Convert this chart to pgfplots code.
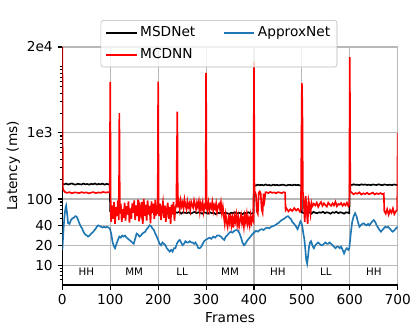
\documentclass[border=0pt]{standalone}
\usepackage{fontspec}
\setmainfont{DejaVu Sans}
\usepackage{pgfplots}
\pgfplotsset{compat=1.18}
\definecolor{mblue}{HTML}{1F77B4}
\definecolor{gridc}{HTML}{B8B8B8}
\begin{document}
\begin{tikzpicture}
\begin{axis}[
  name=ax,
  scale only axis,
  width=244.8pt, height=173.7pt,
  xmin=0, xmax=700, ymin=5, ymax=20000,
  ymode=log,
  axis x line*=bottom, axis y line*=left,
  axis line style={line width=0.8pt, black},
  xtick={0,100,200,300,400,500,600,700},
  ytick={10,20,40,100,1000,20000},
  yticklabels={10,20,40,100,1e3,2e4},
  minor ytick={6,7,8,9,30,50,60,70,80,90,200,300,400,500,600,700,800,900,2000,3000,4000,5000,6000,7000,8000,9000,10000},
  grid=major,
  major grid style={gridc, line width=0.8pt},
  tick align=outside,
  major tick length=3.5pt, minor tick length=2pt,
  every tick/.style={black, line width=0.8pt},
  tick label style={font=\fontsize{10}{12}\selectfont},
  /pgf/number format/assume math mode=true,
  xlabel={Frames}, ylabel={Latency (ms)},
  label style={font=\fontsize{10}{12}\selectfont},
  xlabel style={yshift=1pt},
  ylabel style={yshift=-2pt},
  transpose legend,
  legend columns=2,
  legend cell align=left,
  legend style={at={(0.467,1.113)}, anchor=north, draw=gridc, rounded corners=2pt,
    fill=white, fill opacity=0.8, text opacity=1, draw opacity=1,
    font=\fontsize{10}{12}\selectfont, inner xsep=3pt, inner ysep=2.5pt,
    row sep=3.2pt,
    /tikz/every even column/.append style={column sep=18pt}},
  legend image code/.code={\draw[#1, line width=1.3pt, draw opacity=1] (0pt,0pt) -- (22.4pt,0pt);},
]
\addplot[black, line width=1.2pt] coordinates {
(0,170)(4,167)(8,171)(12,166)(16,169)(20,172)(24,167)(28,165)(32,170)(36,168)(40,166)(44,171)(48,167)(52,169)(56,165)(60,170)(64,167)(68,172)(72,166)(76,169)(80,167)(84,171)(88,165)(92,169)(96,168)(99,167)
(100,65)(104,63)(108,66)(112,62)(116,64)(120,65)(124,61)(128,64)(132,66)(136,62)(140,64)(144,63)(148,65)(152,61)(156,64)(160,66)(164,62)(168,63)(172,65)(176,62)(180,64)(184,61)(188,65)(192,63)(196,64)(199,62)
(200,63)(204,61)(208,64)(212,62)(216,63)(220,60)(224,64)(228,62)(232,61)(236,63)(240,62)(244,64)(248,60)(252,63)(256,62)(260,61)(264,63)(268,60)(272,62)(276,64)(280,61)(284,63)(288,62)(292,60)(296,63)(299,62)
(300,62)(304,60)(308,63)(312,61)(316,62)(320,59)(324,62)(328,61)(332,63)(336,60)(340,62)(344,61)(348,59)(352,62)(356,61)(360,63)(364,60)(368,62)(372,61)(376,59)(380,62)(384,60)(388,63)(392,61)(396,60)(399,62)
(400,163)(404,160)(408,165)(412,162)(416,164)(420,161)(424,166)(428,162)(432,163)(436,160)(440,165)(444,162)(448,164)(452,161)(456,163)(460,165)(464,162)(468,160)(472,164)(476,163)(480,161)(484,165)(488,162)(492,164)(496,160)(499,163)
(500,63)(504,61)(508,64)(512,62)(516,63)(520,60)(524,64)(528,62)(532,61)(536,63)(540,62)(544,64)(548,61)(552,63)(556,62)(560,60)(564,63)(568,62)(572,64)(576,61)(580,63)(584,62)(588,60)(592,63)(596,62)(599,61)
(600,166)(604,163)(608,167)(612,164)(616,165)(620,162)(624,167)(628,164)(632,166)(636,163)(640,165)(644,162)(648,166)(652,164)(656,163)(660,167)(664,164)(668,162)(672,166)(676,164)(680,163)(684,165)(688,162)(692,166)(696,164)(700,163)
};
\addlegendentry{MSDNet}

\addplot[red, line width=1.2pt] coordinates {
(0,20000)(1,150)(2,138)(5,128)(10,124)(15,127)(20,122)(25,126)(30,125)(35,123)(40,127)(45,124)(50,126)(55,122)(60,125)(65,127)(70,123)(75,126)(80,124)(85,128)(90,125)(95,127)(99,126)
(100,5900)(101,60)(102,45)(104,80)(106,50)(108,90)(110,42)(112,75)(114,55)(116,95)(118,48)(119,2000)(120,60)(122,85)(124,45)(126,70)(128,52)(130,88)(132,47)(134,78)(136,58)(138,92)(140,44)(142,72)(144,50)(146,86)(148,62)(150,95)(152,48)(154,80)(156,55)(158,98)(160,46)(162,75)(164,60)(166,90)(168,42)(170,100)(172,55)(174,82)(176,47)(178,95)(180,58)(182,78)(184,43)(186,92)(188,62)(190,85)(192,50)(194,97)(196,56)(198,80)(199,60)
(200,6000)(201,70)(202,55)(204,85)(206,48)(208,72)(210,90)(212,52)(214,80)(216,45)(218,68)(220,88)(222,50)(224,75)(226,42)(228,82)(230,58)(232,90)(234,47)(236,70)(238,85)(240,2100)(241,75)(243,90)(245,70)(247,95)(249,78)(251,88)(253,72)(255,98)(257,80)(259,70)(261,92)(263,76)(265,85)(267,68)(269,90)(271,80)(273,74)(275,95)(277,82)(279,70)(281,88)(283,76)(285,92)(287,65)(289,85)(291,72)(293,88)(295,64)(297,80)(299,75)
(300,8100)(301,90)(303,70)(305,88)(307,68)(309,82)(311,74)(313,90)(315,66)(317,80)(319,72)(321,86)(323,64)(325,78)(327,84)(329,70)(331,88)(333,62)(335,76)
(337,55)(339,42)(341,58)(343,45)(345,38)(347,52)(349,44)(351,60)(353,40)(355,50)(357,37)(359,55)(361,46)(363,58)(365,41)(367,53)(369,39)(371,48)(373,57)(375,43)(377,51)(379,38)(381,55)(383,45)(385,59)(387,42)(389,50)(391,40)(393,56)(395,44)(397,52)(399,47)
(400,12000)(401,130)(402,128)(404,118)(406,65)(408,60)(410,125)(412,130)(414,122)(416,70)(418,62)(420,120)(422,95)(424,126)(426,127)(430,123)(434,128)(438,124)(442,126)(446,122)(450,127)(454,125)(458,123)(462,127)(465,125)
(466,68)(468,72)(472,65)(476,70)(480,66)(484,73)(488,67)(492,71)(496,64)(498,69)
(500,5700)(501,2500)(502,130)(504,85)(506,45)(508,110)(510,70)(512,42)(514,95)(516,80)(518,60)(520,88)(522,78)(525,85)(528,80)(531,88)(534,76)(537,84)(540,90)(543,79)(546,86)(549,81)(552,77)(555,88)(558,83)(561,79)(564,86)(567,80)(570,91)(573,78)(576,84)(579,82)(582,87)(585,79)(588,85)(591,80)(594,88)(597,78)(599,82)
(600,14000)(601,130)(604,125)(608,118)(612,123)(616,120)(620,126)(624,117)(628,122)(632,119)(636,124)(640,118)(644,121)(648,125)(652,117)(656,122)(660,119)(664,123)(668,118)(671,121)
(672,66)(675,60)(678,70)(681,58)(684,68)(687,62)(690,72)(693,59)(696,65)(699,68)(700,1000)
};
\addlegendentry{MCDNN}

\addplot[mblue, line width=1.2pt] coordinates {
(0,17)(3,40)(5,60)(7,76)(8,80)(10,60)(12,43)(15,42)(18,48)(21,51)(24,52)(27,55)(30,54)(33,48)(36,42)(39,38)(42,35)(45,31)(48,29)(51,28)(54,27)(57,28)(60,30)(63,31)(66,33)(69,35)(72,38)(75,40)(78,39)(81,38)(84,37)(87,38)(90,37)(93,38)(96,37)(99,36)
(102,30)(105,22)(108,19)(110,18)(113,21)(116,24)(119,27)(122,26)(125,28)(128,27)(131,28)(134,26)(137,25)(140,24)(143,23)(146,22)(149,21)(152,25)(155,30)(158,29)(161,27)(164,28)(167,30)(170,31)(173,32)(176,35)(179,37)(182,40)(185,39)(188,36)(191,34)(194,30)(197,27)
(200,24)(203,21)(206,20)(209,22)(212,21)(215,20)(218,18)(221,17)(224,16)(227,17)(230,16)(233,18)(236,18)(239,21)(242,23)(245,24)(248,22)(251,20)(254,21)(257,23)(260,22)(263,22)(266,23)(269,22)(272,22)(275,21)(278,22)(281,20)(284,18)(287,18)(290,19)(293,21)(296,23)(299,24)
(303,25)(307,26)(311,25)(315,27)(319,26)(323,28)(327,28)(331,27)(335,25)(338,24)(341,27)(344,28)(347,30)(351,32)(355,31)(359,33)(363,34)(367,33)(370,30)(373,26)(376,22)(379,20)(382,21)(385,23)(389,25)(393,27)(396,29)
(400,31)(404,33)(408,32)(412,34)(416,35)(420,34)(424,36)(428,37)(432,36)(436,38)(440,39)(444,40)(448,42)(452,44)(456,47)(460,49)(464,51)(468,54)(471,55)(474,52)(477,50)(480,45)(484,42)(488,38)(491,35)(494,40)(497,46)(499,44)
(501,38)(503,30)(505,25)(507,18)(509,12)(511,10.5)(513,14)(515,19)(517,22)(519,23)(521,21)(523,19)(525,18)(528,20)(531,21)(534,22)(537,21)(540,20)(543,20)(546,21)(549,22)(552,21)(555,21)(558,22)(561,21)(564,20)(567,19)(570,18)(573,19)(576,19)(579,18)(582,19)(585,17)(588,15)(591,17)(594,18)(597,17)(599,18)
(602,30)(605,45)(608,55)(611,61)(614,55)(617,45)(620,38)(623,40)(626,42)(629,43)(632,41)(635,40)(638,42)(641,40)(644,43)(647,46)(650,48)(653,45)(656,40)(659,37)(662,34)(665,32)(668,34)(671,36)(674,38)(677,37)(680,38)(683,36)(686,34)(689,32)(692,33)(695,35)(698,37)(700,38)
};
\addlegendentry{ApproxNet}

\node[font=\fontsize{7.5}{9}\selectfont] at (axis cs:50,8) {HH};
\node[font=\fontsize{7.5}{9}\selectfont] at (axis cs:150,8) {MM};
\node[font=\fontsize{7.5}{9}\selectfont] at (axis cs:250,8) {LL};
\node[font=\fontsize{7.5}{9}\selectfont] at (axis cs:350,8) {MM};
\node[font=\fontsize{7.5}{9}\selectfont] at (axis cs:450,8) {HH};
\node[font=\fontsize{7.5}{9}\selectfont] at (axis cs:550,8) {LL};
\node[font=\fontsize{7.5}{9}\selectfont] at (axis cs:650,8) {HH};
\end{axis}
\pgfresetboundingbox
\path[use as bounding box] ([xshift=-45.5pt,yshift=-34.3pt]ax.south west) rectangle ([xshift=9.7pt,yshift=34.3pt]ax.north east);
\end{tikzpicture}
\end{document}
